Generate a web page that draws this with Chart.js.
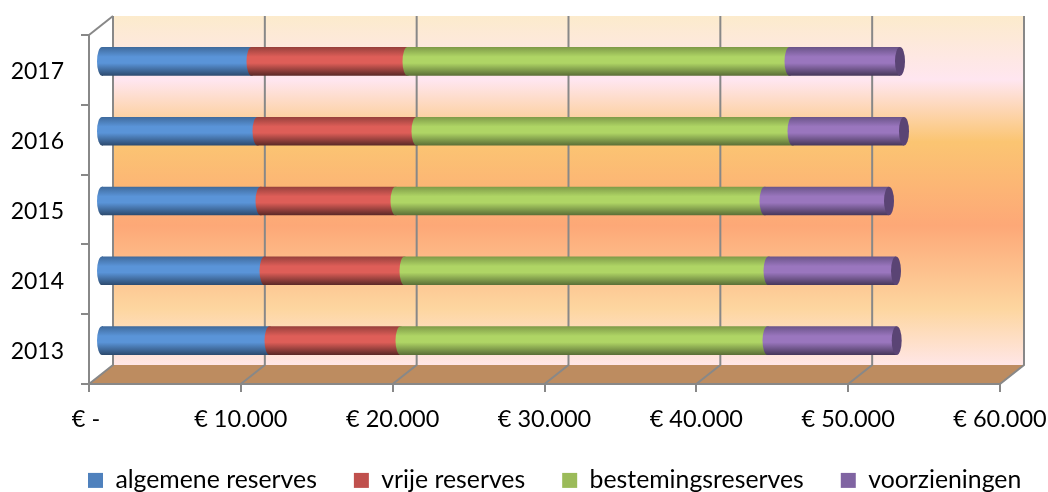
<!DOCTYPE html>
<html>
<head>
<meta charset="utf-8">
<style>
  html, body { margin: 0; padding: 0; background: #fff; }
  #wrap { width: 1048px; height: 492px; }
</style>
<script src="https://cdn.jsdelivr.net/npm/chart.js@4"></script>
</head>
<body>
<div id="wrap"><canvas id="chart"></canvas></div>
<script>
const years = ['2013', '2014', '2015', '2016', '2017'];
const seriesNames = ['algemene reserves', 'vrije reserves', 'bestemingsreserves', 'voorzieningen'];
const algemene = [11098, 10769, 10505, 10307, 9912];
const vrije = [8628, 9220, 8892, 10473, 10275];
const bestemming = [24171, 23974, 24303, 24764, 25159];
const voorzieningen = [8509, 8398, 8200, 7344, 7278];
const xTickLabels = ['€ -\u00a0', '€ 10.000', '€ 20.000', '€ 30.000', '€ 40.000', '€ 50.000', '€ 60.000'];

const legendColors = ['#4f81bd', '#c0504d', '#9bbb59', '#8064a2'];
// top edge, middle, bottom edge of each cylinder
const shades = [
    ['#3f6a9c', '#5a94d8', '#2c4a6e'],
    ['#96403c', '#de5e58', '#5a2826'],
    ['#7e9a48', '#afd565', '#5a6e36'],
    ['#6a5488', '#9a76be', '#463759']
];
const capColor = '#5a4474';
const gridColor = '#888888';
const floorColor = '#bd8c60';
const wallStops = [
    [0, '#fcebcc'], [0.183, '#ffe6f0'], [0.36, '#fbc572'], [0.6, '#fda877'],
    [0.84, '#fdd6a0'], [1, '#ffe6e6']
];
const depthX = 24, depthY = 19;
const fontFamily = 'Lato, Carlito, sans-serif';

function cylinderFill(chart, yMid, halfH, idx) {
    const g = chart.ctx.createLinearGradient(0, yMid - halfH, 0, yMid + halfH);
    g.addColorStop(0, shades[idx][0]);
    g.addColorStop(0.34, shades[idx][1]);
    g.addColorStop(0.56, shades[idx][1]);
    g.addColorStop(1, shades[idx][2]);
    return g;
}

const walls3d = {
    id: 'walls3d',
    beforeLayout(chart) {
        // legend takes no layout room and may run wider than the plot
        const lg = chart.legend;
        if (lg._noRoom) return;
        lg._noRoom = true;
        const fit = lg.fit;
        lg.fit = function () {
            this.maxWidth = 1100;
            fit.call(this);
            this.height = 0;
        };
    },
    afterLayout(chart) {
        const lg = chart.legend;
        lg.left = 51;
        lg.right = 1100;
        lg.top = 431;
    },
    beforeDraw(chart) {
        const { ctx, chartArea: a, scales: { x } } = chart;
        // back wall
        const wall = ctx.createLinearGradient(0, a.top - depthY, 0, a.bottom - depthY);
        wallStops.forEach(s => wall.addColorStop(s[0], s[1]));
        ctx.save();
        ctx.fillStyle = wall;
        ctx.fillRect(a.left + depthX, a.top - depthY, a.right - a.left, a.bottom - a.top);
        // floor
        ctx.fillStyle = floorColor;
        ctx.beginPath();
        ctx.moveTo(a.left, a.bottom);
        ctx.lineTo(a.left + depthX, a.bottom - depthY);
        ctx.lineTo(a.right + depthX, a.bottom - depthY);
        ctx.lineTo(a.right, a.bottom);
        ctx.closePath();
        ctx.fill();
        // grid lines run up the back wall and down across the floor
        ctx.strokeStyle = gridColor;
        ctx.lineWidth = 2;
        x.ticks.forEach(t => {
            const px = x.getPixelForValue(t.value);
            ctx.beginPath();
            ctx.moveTo(px, a.bottom);
            ctx.lineTo(px + depthX, a.bottom - depthY);
            ctx.lineTo(px + depthX, a.top - depthY);
            ctx.stroke();
        });
        ctx.beginPath();
        ctx.moveTo(a.left, a.top);
        ctx.lineTo(a.left + depthX, a.top - depthY);
        ctx.stroke();
        ctx.restore();
    },
    beforeDatasetsDraw(chart) {
        // bars stand half way into the depth of the chart
        chart.ctx.save();
        chart.ctx.translate(depthX / 2, -8.5);
    },
    afterDatasetsDraw(chart) {
        const ctx = chart.ctx;
        const rx = 5;
        chart.data.datasets.forEach((ds, i) => {
            chart.getDatasetMeta(i).data.forEach(bar => {
                const h = bar.height / 2;
                ctx.fillStyle = cylinderFill(chart, bar.y, h, i);
                ctx.beginPath();
                ctx.ellipse(bar.base, bar.y, rx, h, 0, Math.PI / 2, Math.PI * 1.5);
                // run one pixel into the bar so no seam shows
                ctx.lineTo(bar.base + 1, bar.y - h);
                ctx.lineTo(bar.base + 1, bar.y + h);
                ctx.closePath();
                ctx.fill();
                if (i === chart.data.datasets.length - 1) {
                    ctx.fillStyle = capColor;
                    ctx.beginPath();
                    ctx.ellipse(bar.x, bar.y, rx, h, 0, 0, Math.PI * 2);
                    ctx.fill();
                }
            });
        });
        ctx.restore();
    }
};

function makeDataset(label, data, idx) {
    return {
        label: label,
        data: data,
        clip: false,
        borderWidth: 0,
        backgroundColor: (c) => {
            const chart = c.chart;
            if (!chart.chartArea) return legendColors[idx];
            const band = (chart.chartArea.bottom - chart.chartArea.top) / years.length;
            const mid = chart.scales.y.getPixelForValue(c.dataIndex);
            return cylinderFill(chart, mid, band * 0.205, idx);
        }
    };
}

new Chart(document.getElementById('chart'), {
    type: 'bar',
    data: {
        labels: years,
        datasets: [
            makeDataset(seriesNames[0], algemene, 0),
            makeDataset(seriesNames[1], vrije, 1),
            makeDataset(seriesNames[2], bestemming, 2),
            makeDataset(seriesNames[3], voorzieningen, 3)
        ]
    },
    options: {
        indexAxis: 'y',
        responsive: true,
        maintainAspectRatio: false,
        animation: false,
        layout: { padding: { top: 35, right: 48, left: 0, bottom: 0 } },
        datasets: { bar: { categoryPercentage: 1, barPercentage: 0.41 } },
        scales: {
            x: {
                stacked: true,
                min: 0,
                max: 60000,
                afterFit: (s) => { s.height = 108; s.paddingLeft = 0; s.paddingRight = 0; },
                border: { color: gridColor, width: 2 },
                grid: { drawOnChartArea: false, color: gridColor, lineWidth: 2, tickLength: 8 },
                ticks: {
                    stepSize: 10000,
                    maxRotation: 0,
                    autoSkip: false,
                    padding: 13,
                    color: '#000',
                    font: { family: fontFamily, size: 23.5 },
                    callback: (v, i) => xTickLabels[i]
                }
            },
            y: {
                stacked: true,
                reverse: true,
                afterFit: (s) => { s.width = 89; s.paddingTop = 0; s.paddingBottom = 0; },
                border: { color: gridColor, width: 2 },
                grid: { drawOnChartArea: false, color: gridColor, lineWidth: 2, tickLength: 8 },
                ticks: {
                    padding: 17,
                    labelOffset: 2,
                    color: '#000',
                    font: { family: fontFamily, size: 23 }
                }
            }
        },
        plugins: {
            tooltip: { enabled: false },
            legend: {
                position: 'bottom',
                align: 'start',
                labels: {
                    boxWidth: 15,
                    boxHeight: 15,
                    padding: 37,
                    color: '#000',
                    font: { family: fontFamily, size: 24.8 },
                    generateLabels: () => seriesNames.map((n, i) => ({
                        text: n,
                        fillStyle: legendColors[i],
                        strokeStyle: legendColors[i],
                        lineWidth: 0,
                        datasetIndex: i
                    }))
                }
            }
        }
    },
    plugins: [walls3d]
});
</script>
</body>
</html>
